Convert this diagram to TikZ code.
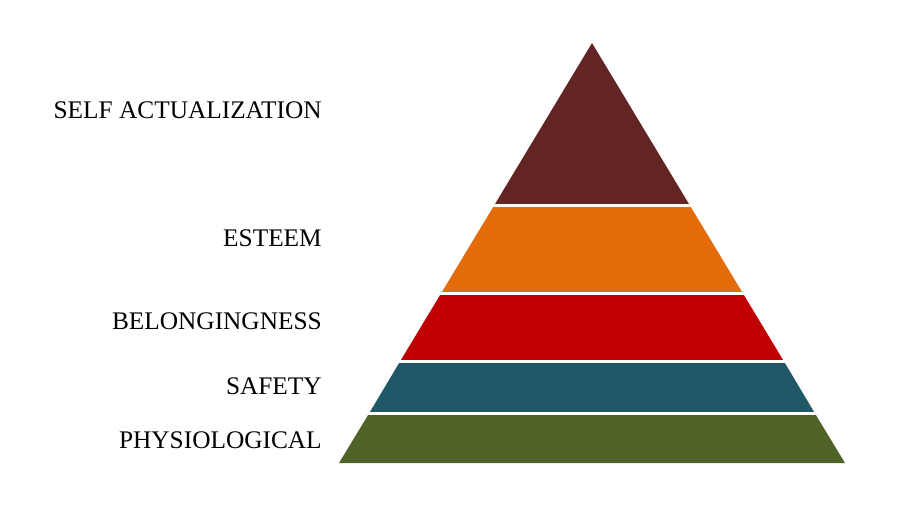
\documentclass[tikz,border=0pt]{standalone}
\usepackage{fontspec}
\setmainfont{Liberation Serif}
\usetikzlibrary{positioning}
\definecolor{selfcol}{HTML}{632523}
\definecolor{esteemcol}{HTML}{E46C0A}
\definecolor{belongcol}{HTML}{C00000}
\definecolor{safetycol}{HTML}{215868}
\definecolor{physiocol}{HTML}{4F6228}
\tikzset{gap/.style={draw=white, line width=2.25pt},
  level/.style={anchor=east, inner sep=0, font=\fontsize{19}{22}\selectfont}}

\begin{document}
\begin{tikzpicture}[x=0.75pt, y=-0.75pt]
\useasboundingbox (0,0) rectangle (900,521);
% pyramid layers, top to bottom
\fill[selfcol] (592,43) -- (689.6,205) -- (494.4,205) -- cycle;
\fill[esteemcol] (494.4,205) -- (689.6,205) -- (743,293.5) -- (441,293.5) -- cycle;
\fill[belongcol] (441,293.5) -- (743,293.5) -- (784,361.5) -- (400,361.5) -- cycle;
\fill[safetycol] (400,361.5) -- (784,361.5) -- (815,413.5) -- (369,413.5) -- cycle;
\fill[physiocol] (369,413.5) -- (815,413.5) -- (845,463) -- (339,463) -- cycle;
% white gaps between layers
\draw[gap] (490,205) -- (694,205);
\draw[gap] (437,293.5) -- (747,293.5);
\draw[gap] (396,361.5) -- (788,361.5);
\draw[gap] (365,413.5) -- (819,413.5);
% labels
\node[level] (self) at (322,110) {SELF ACTUALIZATION};
\node[level] (esteem) at (322,238) {ESTEEM};
\node[level] (belong) at (322,321) {BELONGINGNESS};
\node[level] (safety) at (322,386) {SAFETY};
\node[level] (physio) at (322,440) {PHYSIOLOGICAL};
\end{tikzpicture}
\end{document}
